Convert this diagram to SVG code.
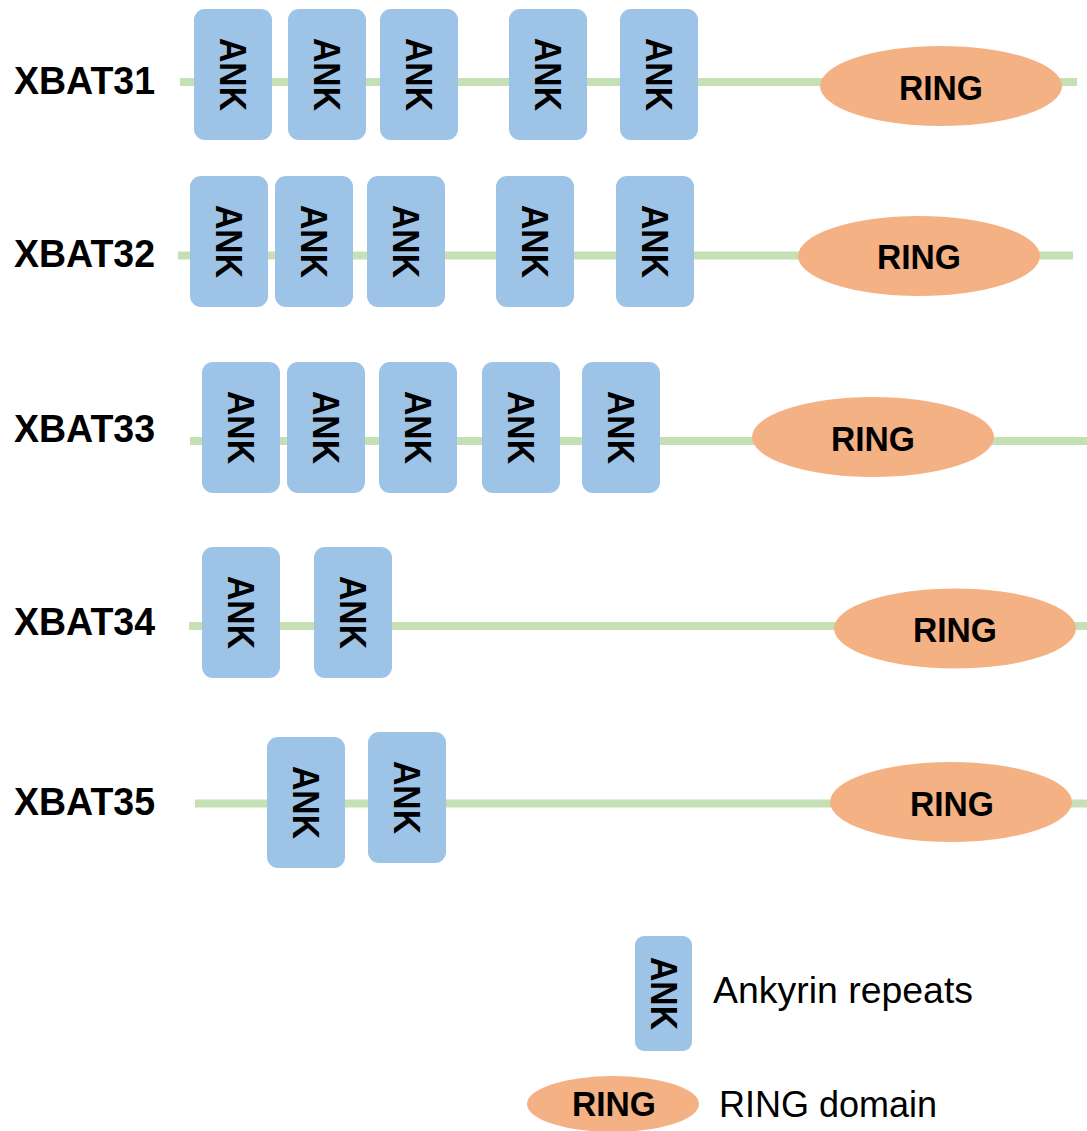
<svg xmlns="http://www.w3.org/2000/svg" width="1087" height="1131" viewBox="0 0 1087 1131">
<style>
.bb{fill:#fff}
.ln{stroke:#c5e0b4;stroke-width:8;fill:none}
.ank{fill:#9dc3e6}
.ring{fill:#f4b183}
.at{font-family:"Liberation Sans",Arial,sans-serif;font-weight:bold;font-size:37px;fill:#000;text-anchor:middle}
.rt{font-family:"Liberation Sans",Arial,sans-serif;font-weight:bold;font-size:35px;fill:#000;text-anchor:middle}
.lb{font-family:"Liberation Sans",Arial,sans-serif;font-weight:bold;font-size:39px;fill:#000}
.lg{font-family:"Liberation Sans",Arial,sans-serif;font-size:36px;fill:#000}
</style>
<defs>
<g id="ankbox">
<rect class="ank" x="0" y="0" width="78" height="131" rx="11"/>
<text class="at" transform="translate(39,65.5) rotate(90)" y="13" textLength="73" lengthAdjust="spacingAndGlyphs">ANK</text>
</g>
</defs>
<rect class="bb" x="0" y="0" width="1087" height="1131"/>
<g id="connectors">
<line class="ln" x1="180" y1="82" x2="1077" y2="82"/>
<line class="ln" x1="178" y1="255.5" x2="1073" y2="255.5"/>
<line class="ln" x1="190" y1="441" x2="1087" y2="441"/>
<line class="ln" x1="189" y1="626" x2="1087" y2="626"/>
<line class="ln" x1="195" y1="803.5" x2="1087" y2="803.5"/>
</g>
<g id="xbat31">
<text class="lb" x="14" y="94" textLength="141" lengthAdjust="spacingAndGlyphs">XBAT31</text>
<use href="#ankbox" x="194" y="9"/>
<use href="#ankbox" x="288" y="9"/>
<use href="#ankbox" x="380" y="9"/>
<use href="#ankbox" x="509" y="9"/>
<use href="#ankbox" x="620" y="9"/>
<ellipse class="ring" cx="941" cy="86" rx="121" ry="40"/>
<text class="rt" x="941" y="100" textLength="84" lengthAdjust="spacingAndGlyphs">RING</text>
</g>
<g id="xbat32">
<text class="lb" x="14" y="267" textLength="141" lengthAdjust="spacingAndGlyphs">XBAT32</text>
<use href="#ankbox" x="190" y="176"/>
<use href="#ankbox" x="275" y="176"/>
<use href="#ankbox" x="367" y="176"/>
<use href="#ankbox" x="496" y="176"/>
<use href="#ankbox" x="616" y="176"/>
<ellipse class="ring" cx="919" cy="256" rx="121" ry="40"/>
<text class="rt" x="919" y="269" textLength="84" lengthAdjust="spacingAndGlyphs">RING</text>
</g>
<g id="xbat33">
<text class="lb" x="14" y="442" textLength="141" lengthAdjust="spacingAndGlyphs">XBAT33</text>
<use href="#ankbox" x="202" y="362"/>
<use href="#ankbox" x="287" y="362"/>
<use href="#ankbox" x="379" y="362"/>
<use href="#ankbox" x="482" y="362"/>
<use href="#ankbox" x="582" y="362"/>
<ellipse class="ring" cx="873" cy="437" rx="121" ry="40"/>
<text class="rt" x="873" y="451" textLength="84" lengthAdjust="spacingAndGlyphs">RING</text>
</g>
<g id="xbat34">
<text class="lb" x="14" y="635" textLength="141" lengthAdjust="spacingAndGlyphs">XBAT34</text>
<use href="#ankbox" x="202" y="547"/>
<use href="#ankbox" x="314" y="547"/>
<ellipse class="ring" cx="955" cy="628.5" rx="121" ry="40"/>
<text class="rt" x="955" y="642" textLength="84" lengthAdjust="spacingAndGlyphs">RING</text>
</g>
<g id="xbat35">
<text class="lb" x="14" y="815" textLength="141" lengthAdjust="spacingAndGlyphs">XBAT35</text>
<use href="#ankbox" x="267" y="737"/>
<use href="#ankbox" x="368" y="732"/>
<ellipse class="ring" cx="951" cy="802" rx="121" ry="40"/>
<text class="rt" x="952" y="816" textLength="84" lengthAdjust="spacingAndGlyphs">RING</text>
</g>
<g id="legend-ank">
<rect class="ank" x="635" y="936" width="57" height="115" rx="9"/>
<text class="at" transform="translate(663.5,993.5) rotate(90)" y="13" textLength="73" lengthAdjust="spacingAndGlyphs">ANK</text>
<text class="lg" x="713" y="1003" textLength="260" lengthAdjust="spacingAndGlyphs">Ankyrin repeats</text>
</g>
<g id="legend-ring">
<ellipse class="ring" cx="613" cy="1104" rx="86" ry="28"/>
<text class="rt" x="614" y="1116" textLength="84" lengthAdjust="spacingAndGlyphs">RING</text>
<text class="lg" x="719" y="1117" textLength="218" lengthAdjust="spacingAndGlyphs">RING domain</text>
</g>
</svg>
